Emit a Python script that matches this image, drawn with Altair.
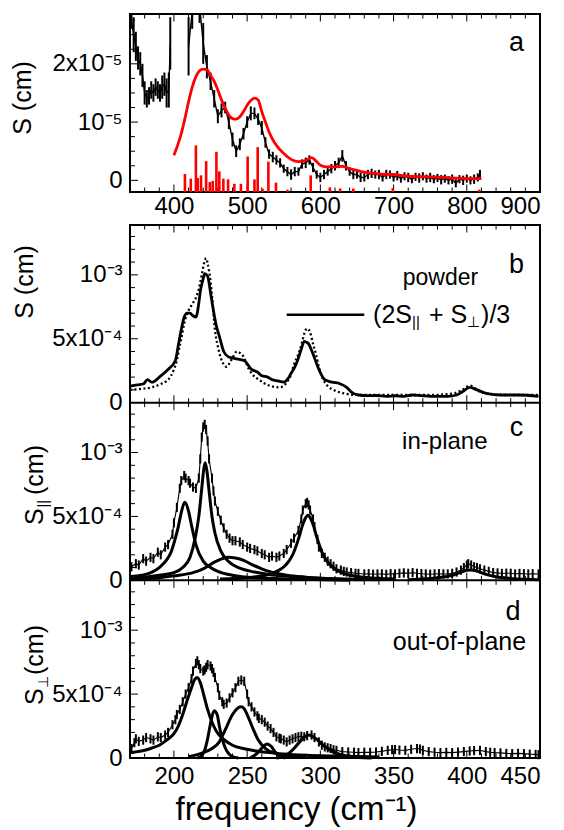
import altair as alt
import pandas as pd

FONT = "Liberation Sans"
W = 410
HA = 178
HB = 533

# ---------------- panel a (units of 1e-5 cm) ----------------
a_freq = [342, 345, 348, 351, 354, 357, 360, 363, 366, 369, 372, 375, 378, 381, 384, 387, 390, 393, 395,
          420, 425, 430, 435, 440, 445, 450, 455, 460, 465, 470, 475, 480, 485, 490, 495, 500, 505, 510, 515,
          520, 525, 530, 535, 540, 545, 550, 555, 560, 565, 570, 575, 580, 585, 590, 595, 600, 605, 610, 615,
          620, 625, 630, 635, 640, 645, 650, 655, 660, 665, 670, 675, 680, 685, 690, 695, 700, 705, 710, 715,
          720, 725, 730, 735, 740, 745, 750, 755, 760, 765, 770, 775, 780, 785, 790, 795, 800, 805, 810, 815, 818]
a_val = [2.75, 2.5, 2.3, 2.1, 2.0, 1.8, 1.5, 1.4, 1.45, 1.55, 1.5, 1.6, 1.55, 1.5, 1.6, 1.65, 1.5, 1.55, 2.35,
         2.3, 2.9, 3.2, 3.0, 2.35, 1.95, 1.7, 1.4, 1.1, 1.2, 1.25, 1.0, 0.7, 0.5, 0.62, 0.8, 1.0, 1.15, 1.15, 1.05,
         0.9, 0.65, 0.45, 0.4, 0.35, 0.3, 0.2, 0.15, 0.1, 0.15, 0.15, 0.28, 0.3, 0.35, 0.22, 0.1, 0.05, 0.1, 0.15, 0.2,
         0.25, 0.3, 0.42, 0.25, 0.15, 0.1, 0.1, 0.05, 0.05, 0.1, 0.12, 0.1, 0.1, 0.05, 0.1, 0.1, 0.05, 0.08, 0.03, 0.07,
         0.05, 0.02, 0.06, 0.04, 0.07, 0.03, 0.05, 0.02, 0.04, 0.01, 0.03, 0.0, 0.02, -0.05, 0.02, 0.0, 0.03, 0.0, 0.02, 0.05, 0.1]
a_err = [0.15, 0.3, 0.25, 0.2, 0.2, 0.2, 0.2, 0.15, 0.15, 0.15, 0.15, 0.15, 0.15, 0.15, 0.2, 0.2, 0.25, 0.3, 0.45,
         0.5, 0.3, 0.3, 0.3, 0.35, 0.2, 0.15, 0.15, 0.12, 0.12, 0.1, 0.12, 0.12, 0.1, 0.1, 0.1, 0.1, 0.12, 0.1, 0.1,
         0.12, 0.09, 0.08, 0.09, 0.08, 0.08, 0.07, 0.08, 0.09, 0.08, 0.07, 0.08, 0.09, 0.08, 0.08, 0.07, 0.08, 0.08, 0.07, 0.08,
         0.08, 0.09, 0.1, 0.08, 0.07, 0.08, 0.07, 0.08, 0.07, 0.08, 0.08, 0.07, 0.08, 0.07, 0.08, 0.07, 0.07, 0.08, 0.07, 0.07,
         0.08, 0.07, 0.07, 0.08, 0.07, 0.07, 0.08, 0.07, 0.07, 0.08, 0.07, 0.07, 0.08, 0.07, 0.07, 0.08, 0.07, 0.07, 0.08, 0.07, 0.08]
a_seg = [0] * 19 + [1] * 81

red_freq = [400, 405, 410, 415, 420, 425, 430, 435, 440, 445, 450, 455, 460, 465, 470, 475, 480, 485, 490, 495,
            500, 505, 510, 515, 520, 525, 530, 535, 540, 550, 560, 570, 580, 588, 595, 600, 610, 620, 630, 640,
            650, 660, 680, 700, 720, 750, 780, 800, 820]
red_val = [0.43, 0.6, 0.8, 1.06, 1.35, 1.6, 1.78, 1.88, 1.91, 1.9, 1.8, 1.7, 1.55, 1.38, 1.24, 1.12, 1.06, 1.05, 1.09, 1.18,
           1.29, 1.37, 1.41, 1.38, 1.18, 1.0, 0.83, 0.7, 0.6, 0.46, 0.36, 0.32, 0.34, 0.39, 0.32, 0.26, 0.23, 0.23, 0.24, 0.2,
           0.17, 0.14, 0.11, 0.1, 0.07, 0.06, 0.04, 0.03, 0.03]

stick_freq = [415, 423, 430, 432.5, 437, 444, 449, 453, 458, 462, 467.5, 474, 482.5, 491.5, 500.7, 510, 514.4, 521,
              529, 539.4, 555, 586.8, 613, 627, 645, 699, 817]
stick_val = [0.11, 0.03, 0.6, 0.04, 0.086, 0.33, -0.03, -0.01, 0.49, 0.155, 0.03, 0.017, -0.06, -0.06, 0.41, 0.017,
             0.57, -0.145, 0.32, -0.04, -0.16, 0.086, -0.12, -0.14, -0.14, -0.13, -0.16]

A_DOM = [-0.2, 2.855]

# ---------------- panels b, c, d (units of 1e-3 cm) ----------------
b_solid_f = [170, 175, 179, 182, 185, 191, 196, 201, 203, 205, 207, 209, 211, 213, 215, 217, 218, 220, 221, 223, 225,
             227, 229, 231, 234, 237, 240, 244, 248, 253, 257, 260, 264, 267, 271, 275, 278, 280, 283, 285, 287, 289,
             291, 292, 294, 296, 299, 303, 308, 313, 318, 321, 326, 332, 338, 345, 351, 357, 363, 369, 375, 381, 387,
             393, 397, 402, 407, 414, 424, 436, 449]
b_solid_v = [0.13, 0.14, 0.146, 0.18, 0.16, 0.21, 0.26, 0.33, 0.45, 0.57, 0.67, 0.7, 0.7, 0.68, 0.67, 0.78, 0.87, 0.97,
             1.01, 0.99, 0.86, 0.72, 0.6, 0.52, 0.4, 0.36, 0.35, 0.34, 0.33, 0.26, 0.24, 0.21, 0.2, 0.18, 0.17, 0.16,
             0.19, 0.23, 0.29, 0.35, 0.42, 0.48, 0.47, 0.46, 0.41, 0.35, 0.26, 0.18, 0.16, 0.15, 0.12, 0.085, 0.06,
             0.055, 0.056, 0.05, 0.054, 0.05, 0.06, 0.055, 0.05, 0.05, 0.05, 0.06, 0.085, 0.12, 0.1, 0.07, 0.06, 0.06, 0.05]

b_dot_f = [170, 175, 179, 185, 191, 195, 198, 200, 202, 204, 205, 207, 210, 213, 215, 217, 219, 221, 222, 223, 225, 226,
           228, 230, 232, 234, 236, 238, 240, 243, 245, 248, 250, 253, 258, 265, 272, 275, 277, 280, 282, 285, 287, 290,
           291, 293, 295, 297, 299, 302, 305, 309, 316, 326, 340, 351, 365, 375, 385, 392, 397, 402, 406, 409, 415, 420,
           430, 440, 449]
b_dot_v = [0.1, 0.105, 0.11, 0.12, 0.146, 0.17, 0.21, 0.26, 0.33, 0.45, 0.5, 0.62, 0.72, 0.78, 0.82, 0.89, 1.0, 1.11,
           1.13, 1.09, 0.95, 0.84, 0.57, 0.44, 0.35, 0.3, 0.28, 0.31, 0.35, 0.4, 0.39, 0.35, 0.29, 0.23, 0.18, 0.134,
           0.12, 0.13, 0.16, 0.22, 0.3, 0.38, 0.45, 0.57, 0.58, 0.55, 0.46, 0.38, 0.28, 0.18, 0.13, 0.1, 0.073, 0.06,
           0.06, 0.06, 0.06, 0.06, 0.065, 0.075, 0.1, 0.134, 0.11, 0.085, 0.07, 0.06, 0.06, 0.06, 0.06]

c_exp_f = [171, 174, 176, 179, 181, 184, 186, 189, 191, 194, 196, 199, 200, 202, 204, 205, 207, 208, 210, 211, 213, 215,
           217, 218, 219, 220, 221, 222, 223, 224, 226, 227, 228, 230, 232, 234, 236, 238, 240, 242, 245, 247, 250, 252,
           255, 257, 260, 262, 265, 267, 270, 272, 275, 277, 280, 282, 285, 287, 288, 290, 291, 292, 293, 295, 296, 298,
           299, 301, 303, 305, 307, 309, 311, 314, 316, 318, 321, 324, 326, 330, 333, 336, 339, 342, 345, 348, 351, 354,
           357, 360, 363, 366, 369, 372, 375, 378, 381, 384, 387, 390, 393, 396, 398, 400, 401, 403, 405, 407, 409, 412,
           415, 418, 421, 424, 427, 430, 433, 436, 439, 442, 445, 449]
c_exp_v = [0.106, 0.13, 0.12, 0.17, 0.15, 0.18, 0.17, 0.22, 0.2, 0.26, 0.28, 0.36, 0.45, 0.57, 0.72, 0.78, 0.82, 0.8,
           0.78, 0.76, 0.73, 0.72, 0.8, 0.95, 1.12, 1.2, 1.22, 1.18, 1.09, 0.95, 0.8, 0.7, 0.62, 0.54, 0.47, 0.41, 0.36,
           0.33, 0.31, 0.31, 0.3, 0.28, 0.26, 0.25, 0.24, 0.23, 0.21, 0.2, 0.18, 0.19, 0.18, 0.19, 0.21, 0.24, 0.29,
           0.33, 0.39, 0.48, 0.55, 0.6, 0.61, 0.59, 0.55, 0.48, 0.42, 0.32, 0.26, 0.21, 0.18, 0.15, 0.13, 0.11, 0.09,
           0.08, 0.07, 0.065, 0.06, 0.055, 0.054, 0.05, 0.052, 0.048, 0.05, 0.05, 0.047, 0.052, 0.05, 0.055, 0.058,
           0.055, 0.06, 0.055, 0.052, 0.05, 0.048, 0.05, 0.052, 0.05, 0.05, 0.055, 0.065, 0.08, 0.1, 0.12, 0.13, 0.12,
           0.106, 0.1, 0.09, 0.08, 0.07, 0.06, 0.058, 0.054, 0.056, 0.055, 0.05, 0.054, 0.052, 0.05, 0.052, 0.05]

d_exp_f = [171, 173, 174, 176, 179, 181, 184, 186, 189, 191, 194, 196, 199, 201, 202, 204, 206, 208, 210, 212, 213, 215,
           216, 217, 218, 220, 221, 222, 223, 225, 226, 227, 228, 230, 231, 233, 234, 236, 238, 240, 242, 244, 246, 248,
           250, 251, 253, 255, 257, 258, 260, 262, 264, 266, 268, 270, 272, 273, 275, 277, 279, 281, 283, 285, 287, 289,
           291, 294, 296, 299, 301, 303, 305, 307, 309, 311, 315, 319, 323, 326, 330, 334, 338, 342, 346, 349, 351, 354,
           358, 362, 366, 368, 370, 374, 378, 382, 386, 390, 394, 398, 402, 405, 409, 413, 416, 419, 423, 427, 431, 435,
           439, 443, 447, 449]
d_exp_v = [0.074, 0.12, 0.15, 0.13, 0.14, 0.16, 0.15, 0.14, 0.166, 0.16, 0.18, 0.2, 0.26, 0.3, 0.34, 0.38, 0.44, 0.5,
           0.55, 0.62, 0.68, 0.74, 0.76, 0.73, 0.7, 0.68, 0.69, 0.71, 0.73, 0.72, 0.7, 0.67, 0.63, 0.55, 0.49, 0.44,
           0.42, 0.43, 0.47, 0.51, 0.55, 0.6, 0.61, 0.6, 0.5, 0.44, 0.4, 0.36, 0.33, 0.31, 0.3, 0.28, 0.25, 0.23, 0.2,
           0.166, 0.155, 0.15, 0.14, 0.126, 0.14, 0.15, 0.16, 0.166, 0.17, 0.166, 0.175, 0.18, 0.16, 0.126, 0.1, 0.087,
           0.08, 0.074, 0.065, 0.06, 0.05, 0.047, 0.045, 0.042, 0.045, 0.044, 0.047, 0.052, 0.06, 0.065, 0.066, 0.062,
           0.06, 0.068, 0.074, 0.07, 0.06, 0.05, 0.045, 0.042, 0.044, 0.042, 0.046, 0.05, 0.055, 0.058, 0.06, 0.05,
           0.045, 0.042, 0.04, 0.036, 0.034, 0.036, 0.034, 0.03, 0.028, 0.026]

# fitted components, in-plane (c)
c1_f = [170, 180, 190, 195, 198, 200, 203, 205, 207.4, 210, 212, 215, 220, 225, 230, 240, 255, 280, 320]
c1_v = [0.03, 0.045, 0.1, 0.16, 0.22, 0.29, 0.42, 0.53, 0.61, 0.54, 0.43, 0.28, 0.15, 0.1, 0.07, 0.04, 0.02, 0.01, 0.0]
c2_f = [170, 180, 190, 200, 206, 211, 214.5, 217, 219, 220.3, 221.3, 222.5, 224, 226, 228, 232, 238, 245, 255, 265, 280, 300, 330]
c2_v = [0.015, 0.025, 0.04, 0.06, 0.1, 0.18, 0.33, 0.5, 0.72, 0.86, 0.92, 0.86, 0.7, 0.5, 0.37, 0.23, 0.14, 0.095, 0.065, 0.045, 0.03, 0.015, 0.005]
c3_f = [170, 190, 200, 213, 220, 228, 233, 237, 242, 248, 253, 260, 265, 270, 277, 290, 310, 340]
c3_v = [0.005, 0.02, 0.035, 0.06, 0.09, 0.145, 0.17, 0.18, 0.175, 0.155, 0.125, 0.09, 0.07, 0.055, 0.04, 0.025, 0.012, 0.005]
c4_f = [231.5, 251.5, 261.5, 266.5, 271.5, 275.5, 278.5, 281.5, 283.5, 285.5, 287.5, 289.5, 291.5, 293.5, 295.5, 297.5,
        299.5, 301.5, 304.5, 307.5, 311.5, 316.5, 321.5, 331.5, 351.5]
c4_v = [0.01, 0.022, 0.038, 0.053, 0.078, 0.11, 0.15, 0.21, 0.27, 0.34, 0.42, 0.48, 0.51, 0.48, 0.42, 0.34, 0.27, 0.21,
        0.15, 0.11, 0.078, 0.053, 0.038, 0.022, 0.01]
c5_f = [360, 370, 380, 390, 395, 400, 403, 407, 412, 420, 430, 450]
c5_v = [0.005, 0.01, 0.02, 0.04, 0.06, 0.078, 0.08, 0.072, 0.05, 0.028, 0.015, 0.005]

# fitted components, out-of-plane (d)
d1_f = [170, 175, 180, 185, 190, 195, 200, 203, 206, 209, 212, 214, 215.9, 218, 220, 223, 226, 229, 234, 240, 248, 255, 265, 275, 290, 310, 340]
d1_v = [0.04, 0.05, 0.06, 0.078, 0.1, 0.14, 0.19, 0.25, 0.34, 0.45, 0.55, 0.61, 0.63, 0.59, 0.51, 0.38, 0.28, 0.21, 0.145, 0.1, 0.072, 0.057, 0.042, 0.032, 0.022, 0.015, 0.008]
d2_f = [216, 219, 221, 223, 225, 227.4, 229.5, 231, 233, 235, 237, 240, 244]
d2_v = [0.0, 0.02, 0.06, 0.15, 0.27, 0.37, 0.34, 0.25, 0.15, 0.08, 0.04, 0.01, 0.0]
d3_f = [210, 218, 226, 231, 235, 240, 243, 245.8, 248, 250, 254, 257.6, 262.5, 270, 280, 290]
d3_v = [0.01, 0.034, 0.074, 0.126, 0.22, 0.34, 0.385, 0.4, 0.385, 0.34, 0.23, 0.14, 0.074, 0.034, 0.015, 0.007]
d4_f = [252, 255, 258, 261, 263.7, 266.5, 269, 272, 276]
d4_v = [0.0, 0.02, 0.05, 0.09, 0.11, 0.09, 0.05, 0.02, 0.0]
d5_f = [270, 274, 277, 282, 287, 291.9, 297, 302, 307, 312, 318, 325, 335]
d5_v = [0.0, 0.01, 0.025, 0.074, 0.14, 0.18, 0.15, 0.1, 0.06, 0.034, 0.015, 0.005, 0.0]

PH = 1.39                     # height of one lower panel, in 1e-3 cm
OFF = {"b": 2 * PH, "c": PH, "d": 0.0}
EXP_HALF = 0.036              # half height of the hatch bars (style)

# ---------------- helpers ----------------
def xa(field="f"):
    return alt.X(f"{field}:Q", scale=alt.Scale(domain=[340, 900], nice=False, zero=False),
                 axis=alt.Axis(values=[400, 500, 600, 700, 800, 900], format="d", ticks=False, domain=False,
                               grid=False, labelPadding=2, title=None))

def ya(field="v"):
    return alt.Y(f"{field}:Q", scale=alt.Scale(domain=A_DOM, nice=False, zero=False),
                 axis=alt.Axis(values=[0, 1, 2], ticks=False, domain=False, grid=False, title=None, labelPadding=8,
                               labelExpr="datum.value == 0 ? '0' : datum.value == 1 ? '10⁻⁵' : '2x10⁻⁵'"))

def xb(field="f"):
    return alt.X(f"{field}:Q", scale=alt.Scale(domain=[170, 450], nice=False, zero=False),
                 axis=alt.Axis(values=[200, 250, 300, 350, 400, 450], format="d", ticks=False, domain=False,
                               grid=False, labelPadding=6, title="frequency (cm⁻¹)", titleFontSize=33,
                               titleFontWeight="normal", titlePadding=5, titleX=166))

LBL = "(round(datum.value*100) % 139) == 0 ? '0' : (round(datum.value*100) % 139) == 50 ? '5x10⁻⁴' : '10⁻³'"

def yb(field="y"):
    return alt.Y(f"{field}:Q", scale=alt.Scale(domain=[0, 3 * PH], nice=False, zero=False),
                 axis=alt.Axis(values=[0, 0.5, 1.0, 1.39, 1.89, 2.39, 2.78, 3.28, 3.78], ticks=False, domain=False,
                               grid=False, title=None, labelPadding=8, labelExpr=LBL))

# ---------------- panel a chart ----------------
dfa = pd.DataFrame({"f": a_freq, "v": a_val, "e": a_err, "seg": a_seg})
dfa["lo"] = dfa["v"] - dfa["e"]
dfa["hi"] = dfa["v"] + dfa["e"]
dfr = pd.DataFrame({"f": red_freq, "v": red_val})
dfs = pd.DataFrame({"f": stick_freq, "v": stick_val})
dfs["base"] = A_DOM[0]

a_err_l = alt.Chart(dfa).mark_rule(color="black", strokeWidth=2, clip=True).encode(
    x=xa(), y=ya("lo"), y2="hi:Q")
a_line = alt.Chart(dfa).mark_line(color="black", strokeWidth=1.4, clip=True).encode(
    x=xa(), y=ya(), detail="seg:N")
a_sticks = alt.Chart(dfs).mark_rule(color="#ff0000", strokeWidth=2.6).encode(
    x=xa(), y=ya("base"), y2="v:Q")
a_red = alt.Chart(dfr).mark_line(color="#ff0000", strokeWidth=2.8, interpolate="monotone").encode(
    x=xa(), y=ya())

# ticks panel a
rows = []
ux = 560 / W            # data units per pixel (x)
uy = (A_DOM[1] - A_DOM[0]) / HA
for p in range(340, 901, 20):
    L = (7.5 if p % 100 == 0 else 4.5) * uy
    rows.append({"f": p, "v": A_DOM[0], "v2": A_DOM[0] + L})
    rows.append({"f": p, "v": A_DOM[1] - L, "v2": A_DOM[1]})
tick_ax = pd.DataFrame(rows)
rows = []
for k in range(0, 12):
    p = k * 0.25
    L = (8 if k % 4 == 0 else 5) * ux
    rows.append({"f": 340, "f2": 340 + L, "v": p})
tick_ay = pd.DataFrame(rows)
a_tx = alt.Chart(tick_ax).mark_rule(color="black", strokeWidth=1).encode(x=xa(), y=ya(), y2="v2:Q")
a_ty = alt.Chart(tick_ay).mark_rule(color="black", strokeWidth=1).encode(x=xa(), x2="f2:Q", y=ya())

a_lab = alt.Chart(pd.DataFrame({"f": [868], "v": [2.36], "t": ["a"]})).mark_text(
    fontSize=27, align="center", baseline="middle").encode(x=xa(), y=ya(), text="t:N")
a_title = alt.Chart(pd.DataFrame({"t": ["S (cm)"]})).mark_text(
    fontSize=25, angle=270, align="center", baseline="middle").encode(
    x=alt.value(-107), y=alt.value(84), text="t:N")

panel_a = alt.layer(a_tx, a_ty, a_sticks, a_err_l, a_line, a_red, a_lab, a_title).properties(width=W, height=HA)

# ---------------- panels b-d chart ----------------
def shifted(fs, vs, panel, **extra):
    d = pd.DataFrame({"f": fs, "v": vs})
    d["y"] = d["v"] + OFF[panel]
    for k, val in extra.items():
        d[k] = val
    return d

dbs = shifted(b_solid_f, b_solid_v, "b")
dbd = shifted(b_dot_f, b_dot_v, "b")
dce = shifted(c_exp_f, c_exp_v, "c", grp="c")
dde = shifted(d_exp_f, d_exp_v, "d", grp="d")
dexp = pd.concat([dce, dde])
dexp["ylo"] = dexp["y"] - EXP_HALF
dexp["yhi"] = dexp["y"] + EXP_HALF

comps = []
for name, fs, vs, pnl in [("c1", c1_f, c1_v, "c"), ("c2", c2_f, c2_v, "c"), ("c3", c3_f, c3_v, "c"),
                          ("c4", c4_f, c4_v, "c"), ("c5", c5_f, c5_v, "c"),
                          ("d1", d1_f, d1_v, "d"), ("d2", d2_f, d2_v, "d"), ("d3", d3_f, d3_v, "d"),
                          ("d4", d4_f, d4_v, "d"), ("d5", d5_f, d5_v, "d")]:
    comps.append(shifted(fs, vs, pnl, comp=name))
dcomp = pd.concat(comps)

b_solid = alt.Chart(dbs).mark_line(color="black", strokeWidth=2.8, interpolate="monotone").encode(x=xb(), y=yb())
b_dot = alt.Chart(dbd).mark_line(color="black", strokeWidth=2.3, strokeDash=[2, 2.5],
                                 interpolate="monotone").encode(x=xb(), y=yb())
e_bars = alt.Chart(dexp).mark_rule(color="black", strokeWidth=2).encode(x=xb(), y=yb("ylo"), y2="yhi:Q")
e_line = alt.Chart(dexp).mark_line(color="black", strokeWidth=1.1).encode(x=xb(), y=yb(), detail="grp:N")
comp_l = alt.Chart(dcomp).mark_line(color="black", strokeWidth=3, interpolate="monotone").encode(
    x=xb(), y=yb(), detail="comp:N")

# separators between panels
sep = alt.Chart(pd.DataFrame({"f": [170, 170], "f2": [450, 450], "y": [PH, 2 * PH]})).mark_rule(
    color="black", strokeWidth=2).encode(x=xb(), x2="f2:Q", y=yb())

# ticks
uxb = 280 / W
uyb = 3 * PH / HB
rows = []
bounds = [0, PH, 2 * PH, 3 * PH]
for p in range(170, 451, 10):
    L = (7.5 if p % 50 == 0 else 4.5) * uyb
    for bnd in bounds:
        lo = bnd - L if bnd > 0 else bnd
        hi = bnd + L if bnd < 3 * PH else bnd
        rows.append({"f": p, "y": lo, "y2": hi})
tick_bx = pd.DataFrame(rows)
rows = []
for o in [0, PH, 2 * PH]:
    for k in range(1, 14):
        L = (8 if k % 5 == 0 else 5) * uxb
        rows.append({"f": 170, "f2": 170 + L, "y": o + k * 0.1})
tick_by = pd.DataFrame(rows)
b_tx = alt.Chart(tick_bx).mark_rule(color="black", strokeWidth=1).encode(x=xb(), y=yb(), y2="y2:Q")
b_ty = alt.Chart(tick_by).mark_rule(color="black", strokeWidth=1).encode(x=xb(), x2="f2:Q", y=yb())

# legend in panel b
leg_y = 0.688 + OFF["b"]
leg_line = alt.Chart(pd.DataFrame({"f": [277], "f2": [330], "y": [leg_y]})).mark_rule(
    color="black", strokeWidth=2.6).encode(x=xb(), x2="f2:Q", y=yb())
leg_parts = [("(2S", 0, 0, 25), ("||", 39, 7, 15), ("+ S", 56, 0, 25), ("⊥", 94, 7, 15), (")/3", 108, 0, 25)]
leg_layers = []
for txt, dx, dy, fs in leg_parts:
    leg_layers.append(alt.Chart(pd.DataFrame({"f": [336], "y": [leg_y], "t": [txt]})).mark_text(
        fontSize=fs, align="left", baseline="middle", dx=dx, dy=dy, color="black").encode(
        x=xb(), y=yb(), text="t:N"))

ann = pd.DataFrame({
    "f": [434, 382, 434, 385, 431.5, 395],
    "y": [1.08 + OFF["b"], 0.976 + OFF["b"], 1.19 + OFF["c"], 1.08 + OFF["c"], 1.14, 0.91],
    "t": ["b", "powder", "c", "in-plane", "d", "out-of-plane"],
    "s": [27, 23, 27, 24, 27, 25],
})
ann_l = alt.Chart(ann).mark_text(align="center", baseline="middle").encode(
    x=xb(), y=yb(), text="t:N", size=alt.Size("s:Q", scale=None, legend=None))

# y titles
tb = alt.Chart(pd.DataFrame({"t": ["S (cm)"]})).mark_text(
    fontSize=25, angle=270, align="center", baseline="middle").encode(x=alt.value(-105), y=alt.value(57), text="t:N")
title_layers = [tb]
for base_y, sub in [(300, "||"), (480, "⊥")]:
    for txt, dx, dy, fs in [("S", 0, 0, 25), (sub, 17.5, 5, 14), ("(cm)", 30, 0, 25)]:
        title_layers.append(alt.Chart(pd.DataFrame({"t": [txt]})).mark_text(
            fontSize=fs, angle=270, align="left", baseline="alphabetic", dx=dx, dy=dy).encode(
            x=alt.value(-87), y=alt.value(base_y), text="t:N"))

panel_bcd = alt.layer(b_tx, b_ty, sep, b_dot, b_solid, e_bars, e_line, comp_l, leg_line, *leg_layers, ann_l,
                      *title_layers).properties(width=W, height=HB)

chart = alt.vconcat(panel_a, panel_bcd, spacing=33, bounds="flush").properties(
    padding={"left": 2, "top": 4, "right": 0, "bottom": 0}
).configure(font=FONT).configure_view(stroke="black", strokeWidth=2).configure_axis(
    labelFont=FONT, labelFontSize=24, labelColor="black", titleFont=FONT, titleColor="black"
).configure_text(font=FONT, color="black")

chart.save("out.html", embed_options={"renderer": "svg", "actions": False})
